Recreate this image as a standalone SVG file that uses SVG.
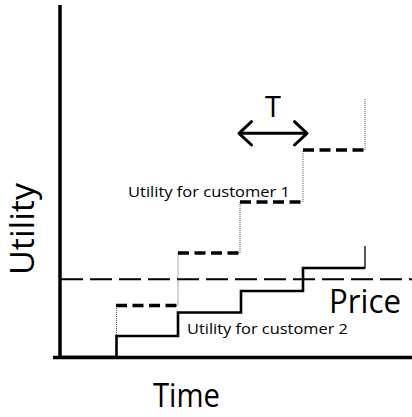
<svg xmlns="http://www.w3.org/2000/svg" width="412" height="417" viewBox="0 0 412 417">
<style>
.txt{font-family:"Open Sans","Liberation Sans",sans-serif;fill:#000}
.axis{stroke:#000;stroke-width:3.5;fill:none}
.price{stroke:#000;stroke-width:2;fill:none;stroke-dasharray:22 7}
.c1{stroke:#000;stroke-width:3.5;fill:none;stroke-dasharray:11 5.5}
.dot{stroke:#555;stroke-width:1;fill:none;stroke-dasharray:1 1}
.c2{stroke:#000;stroke-width:2.6;fill:none}
.thin{stroke:#000;stroke-width:1.3;fill:none}
.arrow{stroke:#000;stroke-width:3;fill:none;stroke-linecap:round;stroke-linejoin:round}
</style>
<rect width="412" height="417" fill="#fff"/>
<g id="axes">
<line class="axis" x1="60" y1="5" x2="60" y2="359"/>
<line class="axis" x1="53" y1="357.5" x2="412" y2="357.5"/>
</g>
<g id="price-line">
<line class="price" x1="61" y1="279.3" x2="412" y2="279.3"/>
</g>
<g id="customer1">
<path class="dot" d="M116.5,357 V305.5 M178,305.5 V253 M240,253 V202 M303,202 V150 M365,150 V98"/>
<line class="c1" x1="116" y1="305.5" x2="178" y2="305.5"/>
<line class="c1" x1="178" y1="253" x2="240" y2="253"/>
<line class="c1" x1="240" y1="202" x2="303" y2="202"/>
<line class="c1" x1="303" y1="150" x2="365" y2="150"/>
</g>
<g id="customer2">
<path class="c2" d="M60,357 H116.5 V336 H178 V312.5 H241 V291 H303 V268 H365"/>
<line class="thin" x1="365" y1="268.5" x2="365" y2="246"/>
</g>
<g id="period-arrow">
<path class="arrow" d="M239,133.3 H307 M251.5,121.7 L239,133.3 L251.5,145 M294.5,121.7 L307,133.3 L294.5,145"/>
<text class="txt" x="273" y="117.3" font-size="29" text-anchor="middle">T</text>
</g>
<g id="labels">
<text class="txt" x="128" y="197" font-size="14" textLength="162" lengthAdjust="spacingAndGlyphs">Utility for customer 1</text>
<text class="txt" x="187" y="333.5" font-size="14" textLength="161" lengthAdjust="spacingAndGlyphs">Utility for customer 2</text>
<text class="txt" x="329" y="313" font-size="32" textLength="72" lengthAdjust="spacingAndGlyphs">Price</text>
<text class="txt" x="153" y="407" font-size="32" textLength="67" lengthAdjust="spacingAndGlyphs">Time</text>
<text class="txt" transform="translate(34,275) rotate(-90)" font-size="32" textLength="92" lengthAdjust="spacingAndGlyphs">Utility</text>
</g>
</svg>
